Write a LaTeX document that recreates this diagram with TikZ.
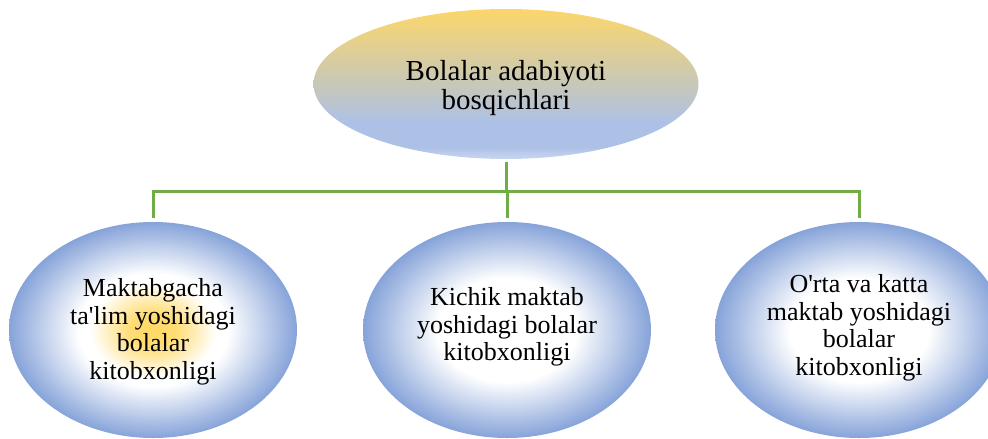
\documentclass[tikz,border=0pt]{standalone}
\usepackage{fontspec}
\setmainfont{Liberation Serif}
\usetikzlibrary{shapes.geometric}
\definecolor{cyel}{HTML}{FFD966}
\definecolor{cblue}{HTML}{86A3D9}
\definecolor{cgreen}{HTML}{70AD47}
\definecolor{tb1}{HTML}{C9D6EF}
\definecolor{tb2}{HTML}{ADC1E7}
\definecolor{tmid}{HTML}{CCC9B2}
\definecolor{ttop}{HTML}{FCD66A}
\pgfdeclareverticalshading{topsh}{100bp}{color(0bp)=(tb1); color(25bp)=(tb1); color(29bp)=(tb2); color(37bp)=(tb2); color(52bp)=(tmid); color(75bp)=(ttop); color(100bp)=(ttop)}
\pgfdeclareradialshading{yelrad}{\pgfpoint{0bp}{0bp}}{color(0bp)=(cyel); color(4bp)=(cyel!90!white); color(11bp)=(white); color(13bp)=(white); color(25bp)=(cblue); color(50bp)=(cblue)}
\pgfdeclareradialshading{whrad}{\pgfpoint{0bp}{0bp}}{color(0bp)=(white); color(12bp)=(white); color(25bp)=(cblue); color(50bp)=(cblue)}
\tikzset{
  topnode/.style={ellipse, inner sep=0pt, minimum width=385pt, minimum height=150pt, shading=topsh},
  toptext/.style={inner sep=0pt, align=center, font=\fontsize{29}{29.5}\selectfont},
  childnode/.style={ellipse, inner sep=0pt, minimum width=288pt, minimum height=216pt, shading=whrad},
  childtext/.style={inner sep=0pt, align=center, font=\fontsize{26}{27.5}\selectfont},
  conn/.style={draw=cgreen, line width=3pt}
}
\begin{document}
\begin{tikzpicture}[x=1pt,y=-1pt]
\useasboundingbox (0,0) rectangle (988,439);
\clip (0,0) rectangle (988,439);
\node[topnode] (top) at (506,84) {};
\node[toptext] (toplabel) at (506,88) {Bolalar adabiyoti\\bosqichlari};
\node[childnode, shading=yelrad] (c1) at (153,330) {};
\node[childtext] (t1) at (153,332) {Maktabgacha\\ta\textquotesingle lim yoshidagi\\bolalar\\kitobxonligi};
\node[childnode] (c2) at (507,330) {};
\node[childtext] (t2) at (507,327) {Kichik maktab\\yoshidagi bolalar\\kitobxonligi};
\node[childnode] (c3) at (859,330) {};
\node[childtext] (t3) at (859,328) {O\textquotesingle rta va katta\\maktab yoshidagi\\bolalar\\kitobxonligi};
\coordinate (bus) at (506,191);
\coordinate (busl) at (153,191);
\coordinate (busr) at (859,191);
\draw[conn, shorten <=3pt] (top.south) -- (top.south |- bus);
\draw[conn, line cap=rect] (busl) -- (busr);
\draw[conn, shorten >=4pt] (busl) -- (c1.north);
\draw[conn, shorten >=4pt] (c2.north |- bus) -- (c2.north);
\draw[conn, shorten >=4pt] (busr) -- (c3.north);
\end{tikzpicture}
\end{document}
